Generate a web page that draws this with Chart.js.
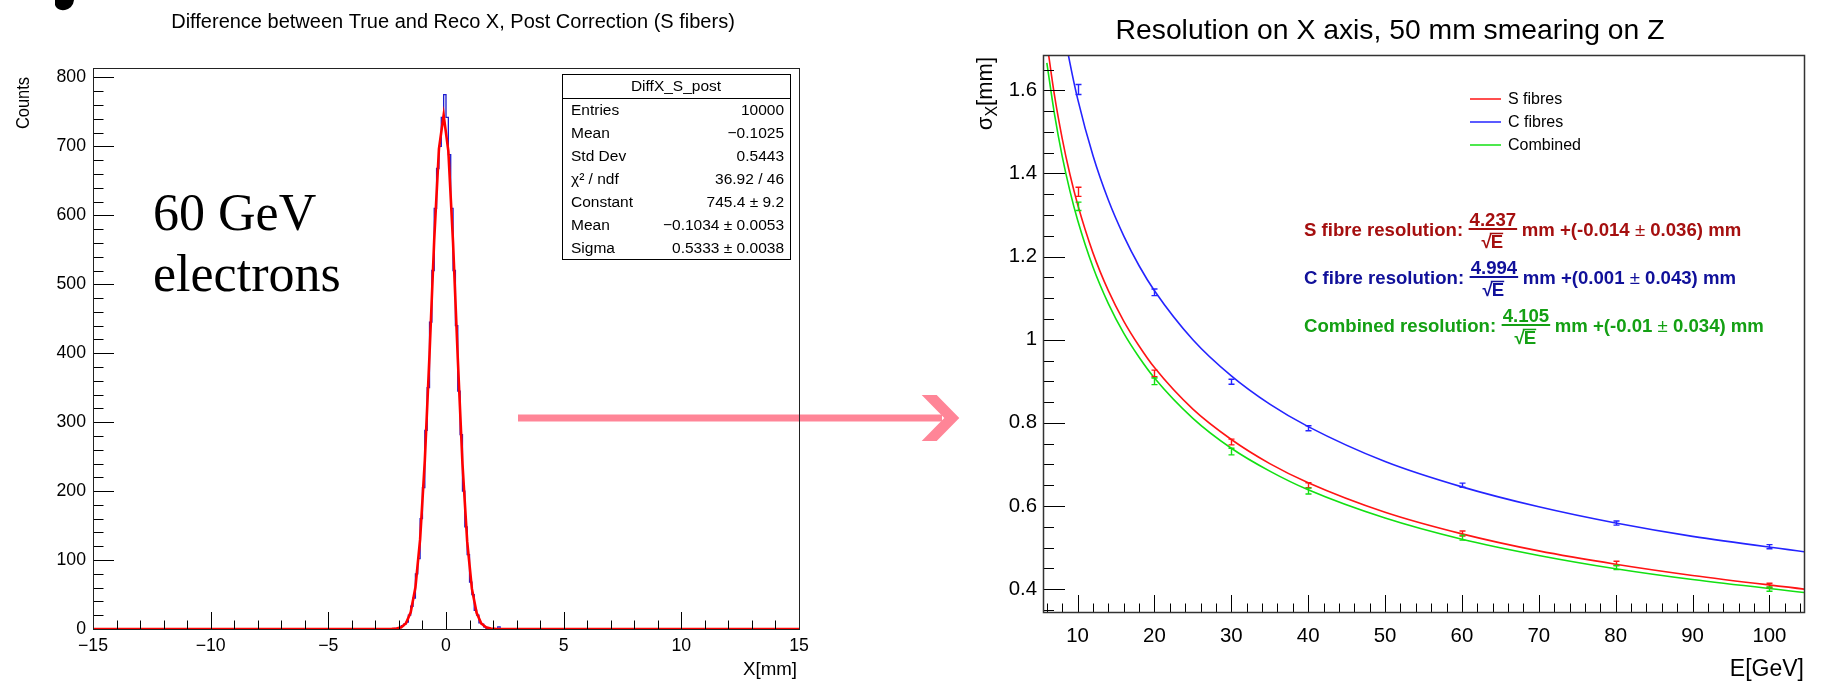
<!DOCTYPE html>
<html>
<head>
<meta charset="utf-8">
<title>DiffX_S_post and X resolution</title>
<script src="https://cdn.jsdelivr.net/npm/chart.js@4.4.1/dist/chart.umd.min.js"></script>
<style>
  html, body { margin: 0; padding: 0; background: #fff; }
  #page { position: relative; width: 1823px; height: 688px; overflow: hidden; background: #fff; }
  #arrow { position: absolute; left: 0; top: 0; }
  #leftChart { position: absolute; left: 0; top: 0; }
  #rightChart { position: absolute; left: 880px; top: 0; }
  .beam { position: absolute; left: 153px; top: 182px; font-family: "Liberation Serif", "Times New Roman", serif;
          font-size: 52px; line-height: 61px; color: #000; white-space: nowrap; }
</style>
</head>
<body>
<div id="page">
  <svg id="arrow" width="1823" height="688">
    <path d="M55 0 L74 0 Q73 8 65 10 Q57 11 55 5 Z" fill="#000" />
    <line x1="518" y1="418" x2="942" y2="418" stroke="#ff8597" stroke-width="7" />
    <polygon points="921.7,395 936.7,395 959.3,418 936.7,441 921.7,441 944.3,418" fill="#ff8597" />
  </svg>
  <div class="beam">60 GeV<br>electrons</div>
  <canvas id="leftChart" width="870" height="688"></canvas>
  <canvas id="rightChart" width="943" height="688"></canvas>
</div>
<script>
// ---------- left panel: DiffX_S_post, 0.1 mm bins ----------
const histStart = -2.3; // low edge of the first listed bin, all other bins are empty
const binWidth = 0.1;
const histCounts = [0, 1, 1, 2, 5, 7, 10, 20, 33, 45, 80, 102, 160, 205, 288, 350, 445, 520, 610, 668,
  700, 742, 775, 742, 688, 610, 520, 440, 345, 282, 200, 148, 108, 68, 50, 27, 20, 9, 7, 3,
  1, 1, 0, 0, 0, 3, 0];
// gaussian fit curve as drawn (Constant 745.4, Mean -0.1034, Sigma 0.5333)
const fitX = [-15, -2.5, -2.3, -2.1, -1.9, -1.7, -1.5, -1.3, -1.1, -0.9, -0.7, -0.5, -0.3, -0.1,
  0.1, 0.3, 0.5, 0.7, 0.9, 1.1, 1.3, 1.5, 1.7, 1.9, 2.1, 2.3, 15];
const fitY = [0, 0, 0.2, 0.7, 2.6, 8.4, 24.2, 60.1, 130.0, 244.2, 398.6, 565.3, 696.4, 745.4,
  693.1, 560.0, 393.0, 239.7, 127.0, 58.5, 23.4, 8.1, 2.5, 0.6, 0.2, 0, 0];
const xmmTicks = [-15, -10, -5, 0, 5, 10, 15];
const countTicks = [0, 100, 200, 300, 400, 500, 600, 700, 800];
const statsTitle = "DiffX_S_post";
const statsNames = ["Entries", "Mean", "Std Dev", "\u03c7\u00b2 / ndf", "Constant", "Mean", "Sigma"];
const statsValues = ["10000", "\u22120.1025", "0.5443", "36.92 / 46", "745.4 \u00b1 9.2",
  "\u22120.1034 \u00b1 0.0053", "0.5333 \u00b1 0.0038"];

// ---------- right panel: resolution vs energy ----------
const energies = [10, 20, 30, 40, 60, 80, 100];
const sigmaS = [1.356, 0.919, 0.754, 0.650, 0.534, 0.462, 0.409];
const errS = [0.011, 0.008, 0.007, 0.006, 0.006, 0.005, 0.005];
const sigmaC = [1.602, 1.114, 0.899, 0.787, 0.650, 0.559, 0.502];
const errC = [0.012, 0.008, 0.006, 0.006, 0.005, 0.005, 0.005];
const sigmaComb = [1.321, 0.900, 0.731, 0.636, 0.524, 0.452, 0.400];
const errComb = [0.010, 0.008, 0.008, 0.007, 0.006, 0.005, 0.005];
// fitted a/sqrt(E)+b curves, read at these energies
const curveE = [6, 7, 8, 9, 10, 12, 14, 16, 18, 20, 25, 30, 35, 40, 50, 60, 70, 80, 90, 104.5];
const curveS = [1.716, 1.587, 1.484, 1.398, 1.326, 1.209, 1.118, 1.045, 0.985, 0.933, 0.833, 0.760,
  0.702, 0.656, 0.585, 0.533, 0.492, 0.460, 0.433, 0.400];
const curveC = [2.040, 1.889, 1.767, 1.666, 1.580, 1.443, 1.336, 1.250, 1.178, 1.118, 1.000, 0.913,
  0.845, 0.791, 0.707, 0.646, 0.598, 0.559, 0.527, 0.490];
const curveComb = [1.666, 1.542, 1.441, 1.358, 1.288, 1.175, 1.087, 1.016, 0.958, 0.908, 0.811, 0.739,
  0.684, 0.639, 0.571, 0.520, 0.481, 0.449, 0.423, 0.392];
const energyTicks = [10, 20, 30, 40, 50, 60, 70, 80, 90, 100];
const sigmaTicks = [0.4, 0.6, 0.8, 1, 1.2, 1.4, 1.6];
const legendLabels = ["S fibres", "C fibres", "Combined"];
const fitLabels = ["S fibre resolution:", "C fibre resolution:", "Combined resolution:"];
const fitSlopes = ["4.237", "4.994", "4.105"];
const fitConsts = ["-0.014", "0.001", "-0.01"];
const fitConstErrs = ["0.036", "0.043", "0.034"];

const lineColors = ["#ff1414", "#2424ff", "#12e012"];
const textColors = ["#a50f0f", "#10109a", "#14a014"];

// ---------- fonts ----------
const SANS = '"Liberation Sans", Arial, sans-serif';
const probe = document.createElement("canvas").getContext("2d");
// font size that makes a string as wide as it is in the picture
function fitSize(text, width, weight) {
  probe.font = (weight || "") + " 100px " + SANS;
  return Math.round(1000 * width / probe.measureText(text).width) / 10;
}
const F = {
  leftTitle: fitSize("Difference between True and Reco X, Post Correction (S fibers)", 563),
  leftTick: fitSize("\u221215", 30),
  leftAxis: fitSize("X[mm]", 54),
  stats: fitSize("DiffX_S_post", 90),
  rightTitle: fitSize("Resolution on X axis, 50 mm smearing on Z", 548),
  rightTick: fitSize("100", 34),
  rightAxis: fitSize("E[GeV]", 74),
  legend: fitSize("Combined", 73),
  fit: fitSize("S fibre resolution:", 159, "bold")
};
const minus = v => String(v).replace("-", "\u2212");

// ROOT style frame: ticks inside, on the bottom and left axes only
function rootFrame(o) {
  return {
    id: "rootFrame",
    afterDatasetsDraw(chart) {
      const { ctx, chartArea: a, scales } = chart;
      const sx = scales.x, sy = scales.y;
      ctx.save();
      ctx.strokeStyle = "#000";
      ctx.lineWidth = 1;
      ctx.beginPath();
      const xt = (v, len) => {
        const px = Math.round(sx.getPixelForValue(v)) + 0.5;
        ctx.moveTo(px, a.bottom); ctx.lineTo(px, a.bottom - len);
      };
      const yt = (v, len) => {
        const py = Math.round(sy.getPixelForValue(v)) + 0.5;
        ctx.moveTo(a.left, py); ctx.lineTo(a.left + len, py);
      };
      for (let k = 0; k < o.xMinor[2]; k++) xt(o.xMinor[0] + k * o.xMinor[1], o.xLen / 2);
      for (let k = 0; k < o.yMinor[2]; k++) yt(o.yMinor[0] + k * o.yMinor[1], o.yLen / 2);
      o.xMajor.forEach(v => xt(v, o.xLen));
      o.yMajor.forEach(v => yt(v, o.yLen));
      ctx.stroke();
      ctx.strokeStyle = o.frameColor;
      ctx.lineWidth = o.frameWidth;
      const l = Math.round(a.left) + 0.5, t = Math.round(a.top) + 0.5;
      ctx.strokeRect(l, t, Math.round(a.right) - Math.round(a.left), Math.round(a.bottom) - Math.round(a.top));
      ctx.restore();
    }
  };
}

function baseScale(min, max, tickList, font, padding, fmt) {
  return {
    type: "linear", min: min, max: max,
    grid: { display: false, drawTicks: false },
    border: { display: false },
    afterBuildTicks: s => { s.ticks = tickList.map(v => ({ value: v })); },
    ticks: { autoSkip: false, maxRotation: 0, padding: padding, color: "#000",
             font: { family: SANS, size: font }, callback: fmt }
  };
}

// ---------- left chart ----------
const histPts = histCounts.map((c, i) => ({ x: histStart + i * binWidth, y: c }));
histPts.unshift({ x: -15, y: 0 });
histPts.push({ x: histStart + histCounts.length * binWidth, y: 0 }, { x: 15, y: 0 });
const fitPts = fitX.map((x, i) => ({ x: x, y: fitY[i] }));

const leftExtras = {
  id: "leftExtras",
  afterDraw(chart) {
    const ctx = chart.ctx;
    ctx.save();
    ctx.fillStyle = "#000";
    ctx.font = F.leftTitle + "px " + SANS;
    ctx.textAlign = "center"; ctx.textBaseline = "middle";
    ctx.fillText("Difference between True and Reco X, Post Correction (S fibers)", 453, 22);

    ctx.font = F.leftAxis + "px " + SANS;
    ctx.textAlign = "right"; ctx.textBaseline = "alphabetic";
    ctx.fillText("X[mm]", 797, 675);
    ctx.save();
    ctx.translate(24, 77); ctx.rotate(-Math.PI / 2); ctx.scale(0.88, 1);
    ctx.textBaseline = "middle";
    ctx.fillText("Counts", 0, 0);
    ctx.restore();

    // statistics box
    const x0 = 562, x1 = 790, y0 = 74, yh = 98, rowH = 23;
    const y1 = yh + rowH * statsNames.length;
    ctx.fillStyle = "#fff";
    ctx.fillRect(x0, y0, x1 - x0, y1 - y0);
    ctx.strokeStyle = "#000"; ctx.lineWidth = 1;
    ctx.strokeRect(x0 + 0.5, y0 + 0.5, x1 - x0, y1 - y0);
    ctx.beginPath(); ctx.moveTo(x0, yh + 0.5); ctx.lineTo(x1, yh + 0.5); ctx.stroke();
    ctx.fillStyle = "#000";
    ctx.font = F.stats + "px " + SANS;
    ctx.textBaseline = "middle";
    ctx.textAlign = "center";
    ctx.fillText(statsTitle, (x0 + x1) / 2, (y0 + yh) / 2 + 1);
    statsNames.forEach((n, i) => {
      const y = yh + rowH * (i + 0.5) + 1;
      ctx.textAlign = "left"; ctx.fillText(n, x0 + 9, y);
      ctx.textAlign = "right"; ctx.fillText(statsValues[i], x1 - 6, y);
    });
    ctx.restore();
  }
};

new Chart(document.getElementById("leftChart"), {
  type: "line",
  data: {
    datasets: [
      { label: "Gaussian fit", data: fitPts, borderColor: "#ff0000", borderWidth: 2.6,
        pointRadius: 0, tension: 0, order: 0 },
      { label: statsTitle, data: histPts, borderColor: "#1c1cd0", borderWidth: 1.3,
        pointRadius: 0, stepped: true, order: 1 }
    ]
  },
  options: {
    responsive: false, animation: false, events: [],
    layout: { padding: { left: 0, top: 68, right: 71, bottom: 0 } },
    plugins: { legend: { display: false }, tooltip: { enabled: false } },
    scales: {
      x: Object.assign(baseScale(-15, 15, xmmTicks, F.leftTick, 6, minus),
        { afterFit: s => { s.height = 59; } }),
      y: Object.assign(baseScale(0, 813.75, countTicks, F.leftTick, 7, v => String(v)),
        { afterFit: s => { s.width = 93; } })
    }
  },
  plugins: [rootFrame({
    xMajor: xmmTicks, xMinor: [-15, 1, 31], xLen: 17,
    yMajor: countTicks, yMinor: [0, 20, 41], yLen: 21,
    frameColor: "#222", frameWidth: 1
  }), leftExtras]
});

// ---------- right chart ----------
const OX = 880; // page x of the right canvas
const pts = (xs, ys) => xs.map((x, i) => ({ x: x, y: ys[i] }));

function fitLine(ctx, x, yBar, color, label, num, pre, post) {
  const s = F.fit;
  const bold = "bold " + s + "px " + SANS, plain = s + "px " + SANS;
  ctx.fillStyle = color;
  ctx.textAlign = "left"; ctx.textBaseline = "alphabetic";
  ctx.font = bold;
  const base = yBar + s * 0.36;
  ctx.fillText(label, x, base);
  let cx = x + ctx.measureText(label).width + s * 0.35;
  const nw = ctx.measureText(num).width;
  ctx.fillText(num, cx, yBar - s * 0.18);
  ctx.fillRect(cx - 1, yBar - 1, nw + 2, 2);
  const rw = ctx.measureText("\u221a").width, ew = ctx.measureText("E").width;
  const dx = cx + (nw - rw - ew) / 2, dBase = yBar + s * 1.02;
  ctx.fillText("\u221a", dx, dBase);
  ctx.fillText("E", dx + rw - 1, dBase);
  ctx.fillRect(dx + rw - 2, dBase - s * 0.82, ew + 1, 1.5);
  cx += nw + s * 0.3;
  ctx.fillText(pre, cx, base); cx += ctx.measureText(pre).width;
  ctx.font = plain; ctx.fillText("\u00b1", cx, base); cx += ctx.measureText("\u00b1").width;
  ctx.font = bold; ctx.fillText(post, cx, base);
}

const errorBars = {
  id: "errorBars",
  afterDatasetsDraw(chart) {
    const ctx = chart.ctx, sy = chart.scales.y;
    ctx.save();
    chart.data.datasets.forEach((ds, i) => {
      if (!ds.errors) return;
      ctx.strokeStyle = ds.borderColor;
      ctx.lineWidth = 1.4;
      chart.getDatasetMeta(i).data.forEach((p, j) => {
        const v = ds.data[j].y, e = ds.errors[j];
        const ya = sy.getPixelForValue(v - e), yb = sy.getPixelForValue(v + e);
        const x = Math.round(p.x) + 0.5;
        ctx.beginPath();
        ctx.moveTo(x, ya); ctx.lineTo(x, yb);
        ctx.moveTo(x - 3, ya); ctx.lineTo(x + 3, ya);
        ctx.moveTo(x - 3, yb); ctx.lineTo(x + 3, yb);
        ctx.stroke();
      });
    });
    ctx.restore();
  }
};

const rightExtras = {
  id: "rightExtras",
  afterDraw(chart) {
    const ctx = chart.ctx;
    ctx.save();
    ctx.fillStyle = "#000";
    ctx.font = F.rightTitle + "px " + SANS;
    ctx.textAlign = "center"; ctx.textBaseline = "middle";
    ctx.fillText("Resolution on X axis, 50 mm smearing on Z", 1390 - OX, 31);

    ctx.font = F.rightAxis + "px " + SANS;
    ctx.textAlign = "right"; ctx.textBaseline = "alphabetic";
    ctx.fillText("E[GeV]", 1804 - OX, 676);

    // sigma_X[mm], rotated, ending at the top of the frame
    const big = Math.round(F.rightAxis * 0.95), small = Math.round(F.rightAxis * 0.68);
    ctx.save();
    ctx.translate(986 - OX, 57); ctx.rotate(-Math.PI / 2);
    ctx.textAlign = "left"; ctx.textBaseline = "middle";
    ctx.font = big + "px " + SANS;
    const w1 = ctx.measureText("\u03c3").width, w3 = ctx.measureText("[mm]").width;
    ctx.font = small + "px " + SANS;
    const w2 = ctx.measureText("X").width;
    let px = -(w1 + w2 + w3);
    ctx.font = big + "px " + SANS; ctx.fillText("\u03c3", px, 0); px += w1;
    ctx.font = small + "px " + SANS; ctx.fillText("X", px, big * 0.28); px += w2;
    ctx.font = big + "px " + SANS; ctx.fillText("[mm]", px, 0);
    ctx.restore();

    // legend
    ctx.font = F.legend + "px " + SANS;
    ctx.textAlign = "left"; ctx.textBaseline = "middle";
    legendLabels.forEach((t, i) => {
      const y = 99 + i * 23;
      ctx.strokeStyle = lineColors[i]; ctx.lineWidth = 1.5;
      ctx.beginPath(); ctx.moveTo(1470 - OX, y); ctx.lineTo(1501 - OX, y); ctx.stroke();
      ctx.fillStyle = "#000";
      ctx.fillText(t, 1508 - OX, y + 1);
    });

    // fit results
    fitLabels.forEach((t, i) => {
      fitLine(ctx, 1304 - OX, 229 + i * 48, textColors[i], t, fitSlopes[i],
        "mm +(" + fitConsts[i] + " ", " " + fitConstErrs[i] + ") mm");
    });
    ctx.restore();
  }
};

const curveDs = (label, ys, color) => ({
  label: label, data: pts(curveE, ys), borderColor: color, borderWidth: 1.6,
  pointRadius: 0, cubicInterpolationMode: "monotone"
});
const pointDs = (label, ys, errs, color) => ({
  label: label, data: pts(energies, ys), errors: errs, borderColor: color,
  showLine: false, pointRadius: 0
});

new Chart(document.getElementById("rightChart"), {
  type: "line",
  data: {
    datasets: [
      curveDs(legendLabels[0] + " fit", curveS, lineColors[0]),
      curveDs(legendLabels[1] + " fit", curveC, lineColors[1]),
      curveDs(legendLabels[2] + " fit", curveComb, lineColors[2]),
      pointDs(legendLabels[0], sigmaS, errS, lineColors[0]),
      pointDs(legendLabels[1], sigmaC, errC, lineColors[1]),
      pointDs(legendLabels[2], sigmaComb, errComb, lineColors[2])
    ]
  },
  options: {
    responsive: false, animation: false, events: [],
    layout: { padding: { left: 0, top: 55, right: 19, bottom: 0 } },
    plugins: { legend: { display: false }, tooltip: { enabled: false } },
    scales: {
      x: Object.assign(baseScale(5.5, 104.5, energyTicks, F.rightTick, 12, v => String(v)),
        { afterFit: s => { s.height = 76; } }),
      y: Object.assign(baseScale(0.345, 1.685, sigmaTicks, F.rightTick, 6, v => String(v)),
        { afterFit: s => { s.width = 163; } })
    }
  },
  plugins: [errorBars, rootFrame({
    xMajor: energyTicks, xMinor: [6, 2, 50], xLen: 17,
    yMajor: sigmaTicks, yMinor: [0.35, 0.05, 27], yLen: 22,
    frameColor: "#333", frameWidth: 1.5
  }), rightExtras]
});
</script>
</body>
</html>
